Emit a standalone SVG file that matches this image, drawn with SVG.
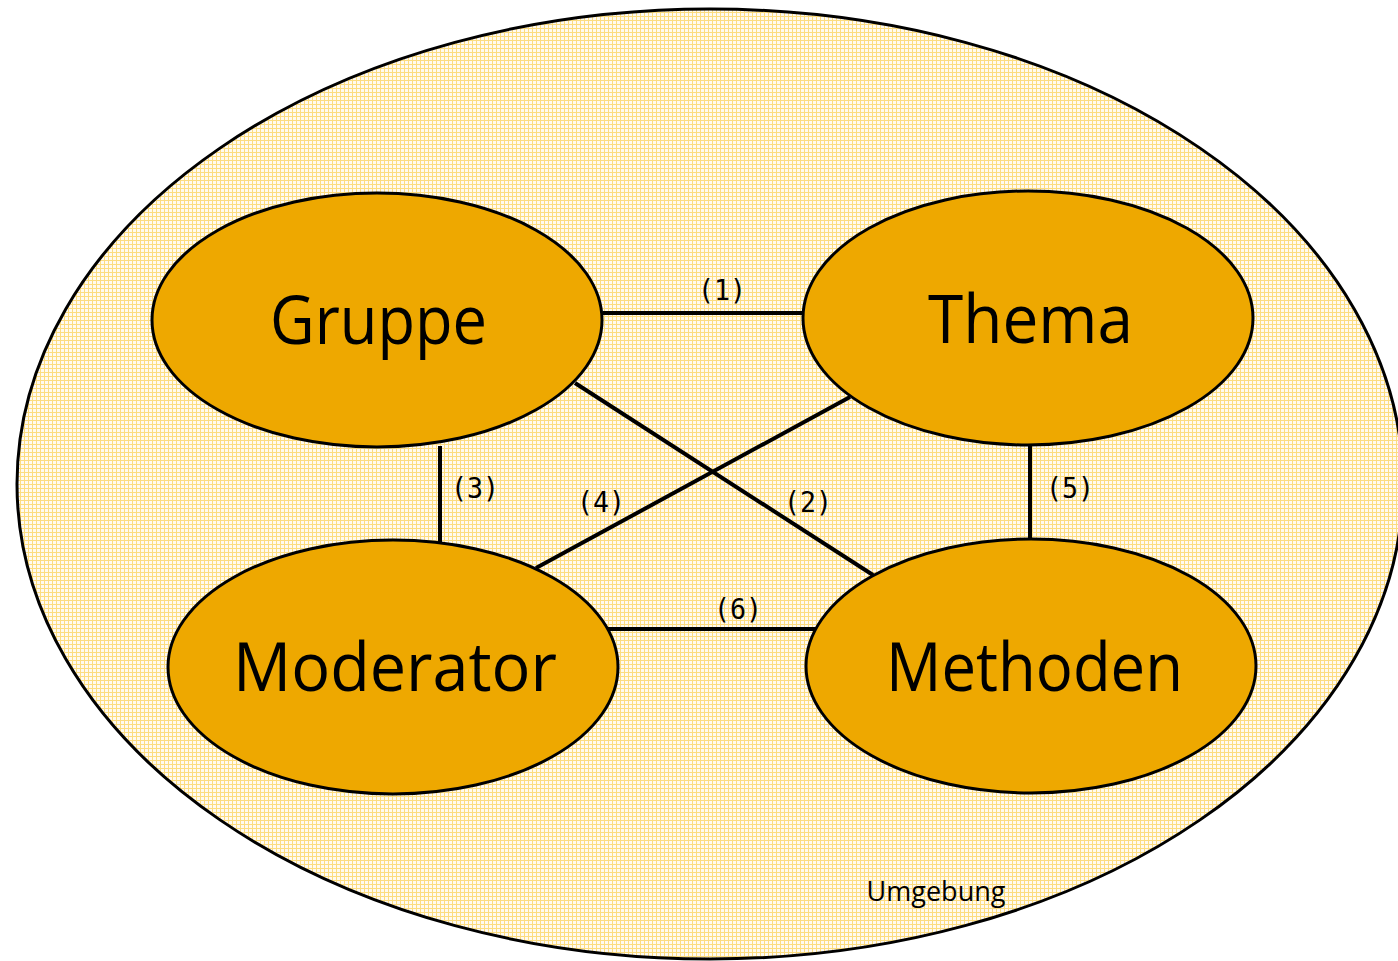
<svg xmlns="http://www.w3.org/2000/svg" width="1398" height="961" viewBox="0 0 1398 961">
  <defs>
    <!-- fine yellow grid texture for the surrounding area -->
    <pattern id="grid" width="4" height="4" patternUnits="userSpaceOnUse">
      <rect width="4" height="4" fill="#fffaf0"/>
      <rect width="4" height="1" fill="#fcdc80"/>
      <rect width="1" height="4" fill="#fcdc80"/>
    </pattern>
  </defs>
  <style>
    .env { fill: url(#grid); stroke: #000; stroke-width: 3; }
    .node { fill: #eea800; stroke: #000; stroke-width: 3; }
    .name { font-family: "Open Sans", "Liberation Sans", Arial, sans-serif; font-weight: 400; font-size: 68px; fill: #000; text-anchor: middle; }
    .link { stroke: #000; stroke-width: 4; fill: none; }
    .num { font-family: "DejaVu Sans Mono", monospace; font-size: 28px; fill: #000; text-anchor: middle; }
    .envlabel { font-family: "Open Sans", "Liberation Sans", Arial, sans-serif; font-size: 27px; fill: #000; text-anchor: middle; }
  </style>
  <rect width="1398" height="961" fill="#fff"/>

  <g id="umgebung">
    <ellipse class="env" cx="710" cy="484" rx="693" ry="475"/>
    <text class="envlabel" x="936" y="901" textLength="139" lengthAdjust="spacingAndGlyphs">Umgebung</text>
  </g>

  <g id="connectors">
    <line class="link" x1="603" y1="313" x2="803" y2="313"/>
    <line class="link" x1="575" y1="383" x2="873" y2="575"/>
    <line class="link" x1="440" y1="446" x2="440" y2="542"/>
    <line class="link" x1="850" y1="397" x2="536" y2="568"/>
    <line class="link" x1="1030" y1="446" x2="1030" y2="540"/>
    <line class="link" x1="608" y1="629" x2="817" y2="629"/>
    <text class="num" x="722" y="300" textLength="48" lengthAdjust="spacingAndGlyphs">(1)</text>
    <text class="num" x="808" y="512" textLength="48" lengthAdjust="spacingAndGlyphs">(2)</text>
    <text class="num" x="475" y="498" textLength="48" lengthAdjust="spacingAndGlyphs">(3)</text>
    <text class="num" x="601" y="512" textLength="48" lengthAdjust="spacingAndGlyphs">(4)</text>
    <text class="num" x="1070" y="498" textLength="48" lengthAdjust="spacingAndGlyphs">(5)</text>
    <text class="num" x="738" y="619" textLength="48" lengthAdjust="spacingAndGlyphs">(6)</text>
  </g>

  <g id="gruppe">
    <ellipse class="node" cx="377" cy="320" rx="225" ry="127"/>
    <text class="name" x="378.5" y="344" textLength="217" lengthAdjust="spacingAndGlyphs">Gruppe</text>
  </g>
  <g id="thema">
    <ellipse class="node" cx="1028" cy="318" rx="225" ry="127"/>
    <text class="name" x="1030.5" y="343" textLength="205" lengthAdjust="spacingAndGlyphs">Thema</text>
  </g>
  <g id="moderator">
    <ellipse class="node" cx="393" cy="667" rx="225" ry="127"/>
    <text class="name" x="395" y="691" textLength="324" lengthAdjust="spacingAndGlyphs">Moderator</text>
  </g>
  <g id="methoden">
    <ellipse class="node" cx="1031" cy="666" rx="225" ry="127"/>
    <text class="name" x="1034.5" y="691" textLength="297" lengthAdjust="spacingAndGlyphs">Methoden</text>
  </g>
</svg>
